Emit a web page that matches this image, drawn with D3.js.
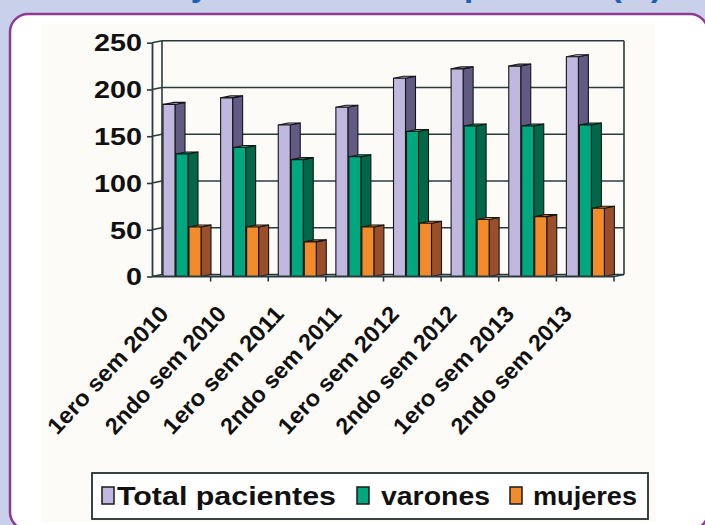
<!DOCTYPE html>
<html>
<head>
<meta charset="utf-8">
<script src="https://cdn.jsdelivr.net/npm/d3@7/dist/d3.min.js"></script>
<style>
  html, body { margin: 0; padding: 0; background: #c8d0ea; }
  svg { display: block; }
  text { font-family: "Liberation Sans", Arial, sans-serif; font-weight: bold; }
</style>
</head>
<body>
<svg id="chart" width="705" height="525"></svg>
<script>
// Patients per semester, split by sex
const categories = ["1ero sem 2010", "2ndo sem 2010", "1ero sem 2011", "2ndo sem 2011",
                    "1ero sem 2012", "2ndo sem 2012", "1ero sem 2013", "2ndo sem 2013"];
const seriesNames = ["Total pacientes", "varones", "mujeres"];
const totalValues   = [184, 191, 162, 181, 212, 222, 225, 235];
const varonesValues = [131, 138, 125, 128, 155, 161, 161, 162];
const mujeresValues = [53, 53, 37, 53, 57, 61, 64, 73];
const yTicks = [0, 50, 100, 150, 200, 250];

const seriesValues = [totalValues, varonesValues, mujeresValues];
const frontColors = ["#c0b8de", "#00a87f", "#f28c2a"];
const sideColors  = ["#615a82", "#006848", "#9a4e2a"];

const svg = d3.select("#chart");

// page background and card
svg.append("rect").attr("width", 705).attr("height", 525).attr("fill", "#c8d0ea");
svg.append("text")
  .attr("x", 662).attr("y", -4)
  .attr("text-anchor", "end")
  .attr("font-size", 33)
  .attr("fill", "#1b62b5")
  .text("Total de pacientes atendidos y su distribución por sexo (%)");
svg.append("rect")
  .attr("x", 10).attr("y", 14).attr("width", 698).attr("height", 516)
  .attr("rx", 18).attr("ry", 18)
  .attr("fill", "#ffffff").attr("stroke", "#8e3b94").attr("stroke-width", 2.5);
svg.append("rect")
  .attr("x", 42).attr("y", 24).attr("width", 613).attr("height", 498)
  .attr("fill", "#fdfbf8");

// scales
const depthX = 10, depthY = 2;
const x = d3.scaleBand().domain(categories).range([153, 614]).paddingInner(0).paddingOuter(0);
const xs = d3.scaleBand().domain(seriesNames).range([10, 49]);
const barW = 12;
const y = d3.scaleLinear().domain([0, 250]).range([276.5, 42.7]);

const gridColor = "#2a3b3e";
const plot = svg.append("g");

// back wall gridlines and side wall segments
yTicks.forEach(v => {
  plot.append("line")
    .attr("x1", x.range()[0] + depthX - 1).attr("x2", x.range()[1] + depthX)
    .attr("y1", y(v) - depthY).attr("y2", y(v) - depthY)
    .attr("stroke", gridColor).attr("stroke-width", 1.6);
  plot.append("line")
    .attr("x1", 152).attr("x2", x.range()[0] + depthX - 1)
    .attr("y1", y(v)).attr("y2", y(v) - depthY)
    .attr("stroke", gridColor).attr("stroke-width", 1.6);
});
// wall edges
plot.append("line")
  .attr("x1", x.range()[0] + depthX - 1).attr("x2", x.range()[0] + depthX - 1)
  .attr("y1", y(250) - depthY).attr("y2", y(0) - depthY)
  .attr("stroke", gridColor).attr("stroke-width", 1.6);
plot.append("line")
  .attr("x1", x.range()[1] + depthX).attr("x2", x.range()[1] + depthX)
  .attr("y1", y(250) - depthY).attr("y2", y(0) - depthY)
  .attr("stroke", gridColor).attr("stroke-width", 1.6);
plot.append("line")
  .attr("x1", x.range()[1]).attr("x2", x.range()[1] + depthX)
  .attr("y1", y(0)).attr("y2", y(0) - depthY)
  .attr("stroke", gridColor).attr("stroke-width", 1.6);

// bars: side face, top face, front face
categories.forEach((c, i) => {
  seriesNames.forEach((s, j) => {
    const v = seriesValues[j][i];
    const x0 = x(c) + xs(s);
    const x1 = x0 + barW;
    const yt = y(v), yb = y(0);
    const g = plot.append("g").attr("stroke", "#161616").attr("stroke-width", 1.1).attr("stroke-linejoin", "round");
    g.append("path")
      .attr("d", `M${x1},${yt}L${x1 + depthX},${yt - depthY}L${x1 + depthX},${yb - depthY}L${x1},${yb}Z`)
      .attr("fill", sideColors[j]);
    g.append("path")
      .attr("d", `M${x0},${yt}L${x0 + depthX},${yt - depthY}L${x1 + depthX},${yt - depthY}L${x1},${yt}Z`)
      .attr("fill", frontColors[j]);
    g.append("rect")
      .attr("x", x0).attr("y", yt).attr("width", barW).attr("height", yb - yt)
      .attr("fill", frontColors[j]);
  });
});

// y axis
const yAxis = svg.append("g")
  .attr("transform", "translate(152,0)")
  .call(d3.axisLeft(y).tickValues(yTicks).tickSize(5).tickSizeOuter(0));
yAxis.select(".domain").attr("stroke", gridColor).attr("stroke-width", 1.8);
yAxis.selectAll(".tick line").attr("stroke", gridColor).attr("stroke-width", 1.6);
yAxis.selectAll(".tick text")
  .attr("x", 0)
  .attr("dy", "0.36em")
  .attr("transform", "translate(-10,0) scale(1.25,1)")
  .attr("font-size", 23)
  .attr("font-family", "Liberation Sans, Arial, sans-serif")
  .attr("font-weight", "bold")
  .attr("fill", "#111");

// x axis line with boundary ticks
svg.append("line")
  .attr("x1", 152).attr("x2", x.range()[1])
  .attr("y1", y(0)).attr("y2", y(0))
  .attr("stroke", gridColor).attr("stroke-width", 1.8);
categories.forEach(c => {
  const bx = x(c) + x.bandwidth();
  svg.append("line")
    .attr("x1", bx).attr("x2", bx)
    .attr("y1", y(0)).attr("y2", y(0) + 5)
    .attr("stroke", gridColor).attr("stroke-width", 1.6);
});
// category labels
svg.append("g").selectAll("text")
  .data(categories)
  .join("text")
  .attr("transform", d => `translate(${x(d) + x.bandwidth() / 2 - 12},315) rotate(-47)`)
  .attr("text-anchor", "end")
  .attr("font-size", 23)
  .attr("fill", "#111")
  .attr("textLength", 165)
  .attr("lengthAdjust", "spacingAndGlyphs")
  .text(d => d);

// legend
const legend = svg.append("g");
legend.append("rect")
  .attr("x", 92).attr("y", 473).attr("width", 556).attr("height", 46)
  .attr("fill", "#ffffff").attr("stroke", "#22302f").attr("stroke-width", 1.8);
const legendItems = [
  { name: seriesNames[0], sx: 102, tx: 117, len: 219 },
  { name: seriesNames[1], sx: 357, tx: 381, len: 109 },
  { name: seriesNames[2], sx: 510, tx: 533, len: 104 }
];
legendItems.forEach((it, j) => {
  legend.append("rect")
    .attr("x", it.sx).attr("y", 487).attr("width", 12).attr("height", 17)
    .attr("fill", frontColors[j]).attr("stroke", "#1a1a1a").attr("stroke-width", 1.5);
  legend.append("text")
    .attr("x", it.tx).attr("y", 505)
    .attr("font-size", 26)
    .attr("fill", "#111")
    .attr("textLength", it.len)
    .attr("lengthAdjust", "spacingAndGlyphs")
    .text(it.name);
});
</script>
</body>
</html>
